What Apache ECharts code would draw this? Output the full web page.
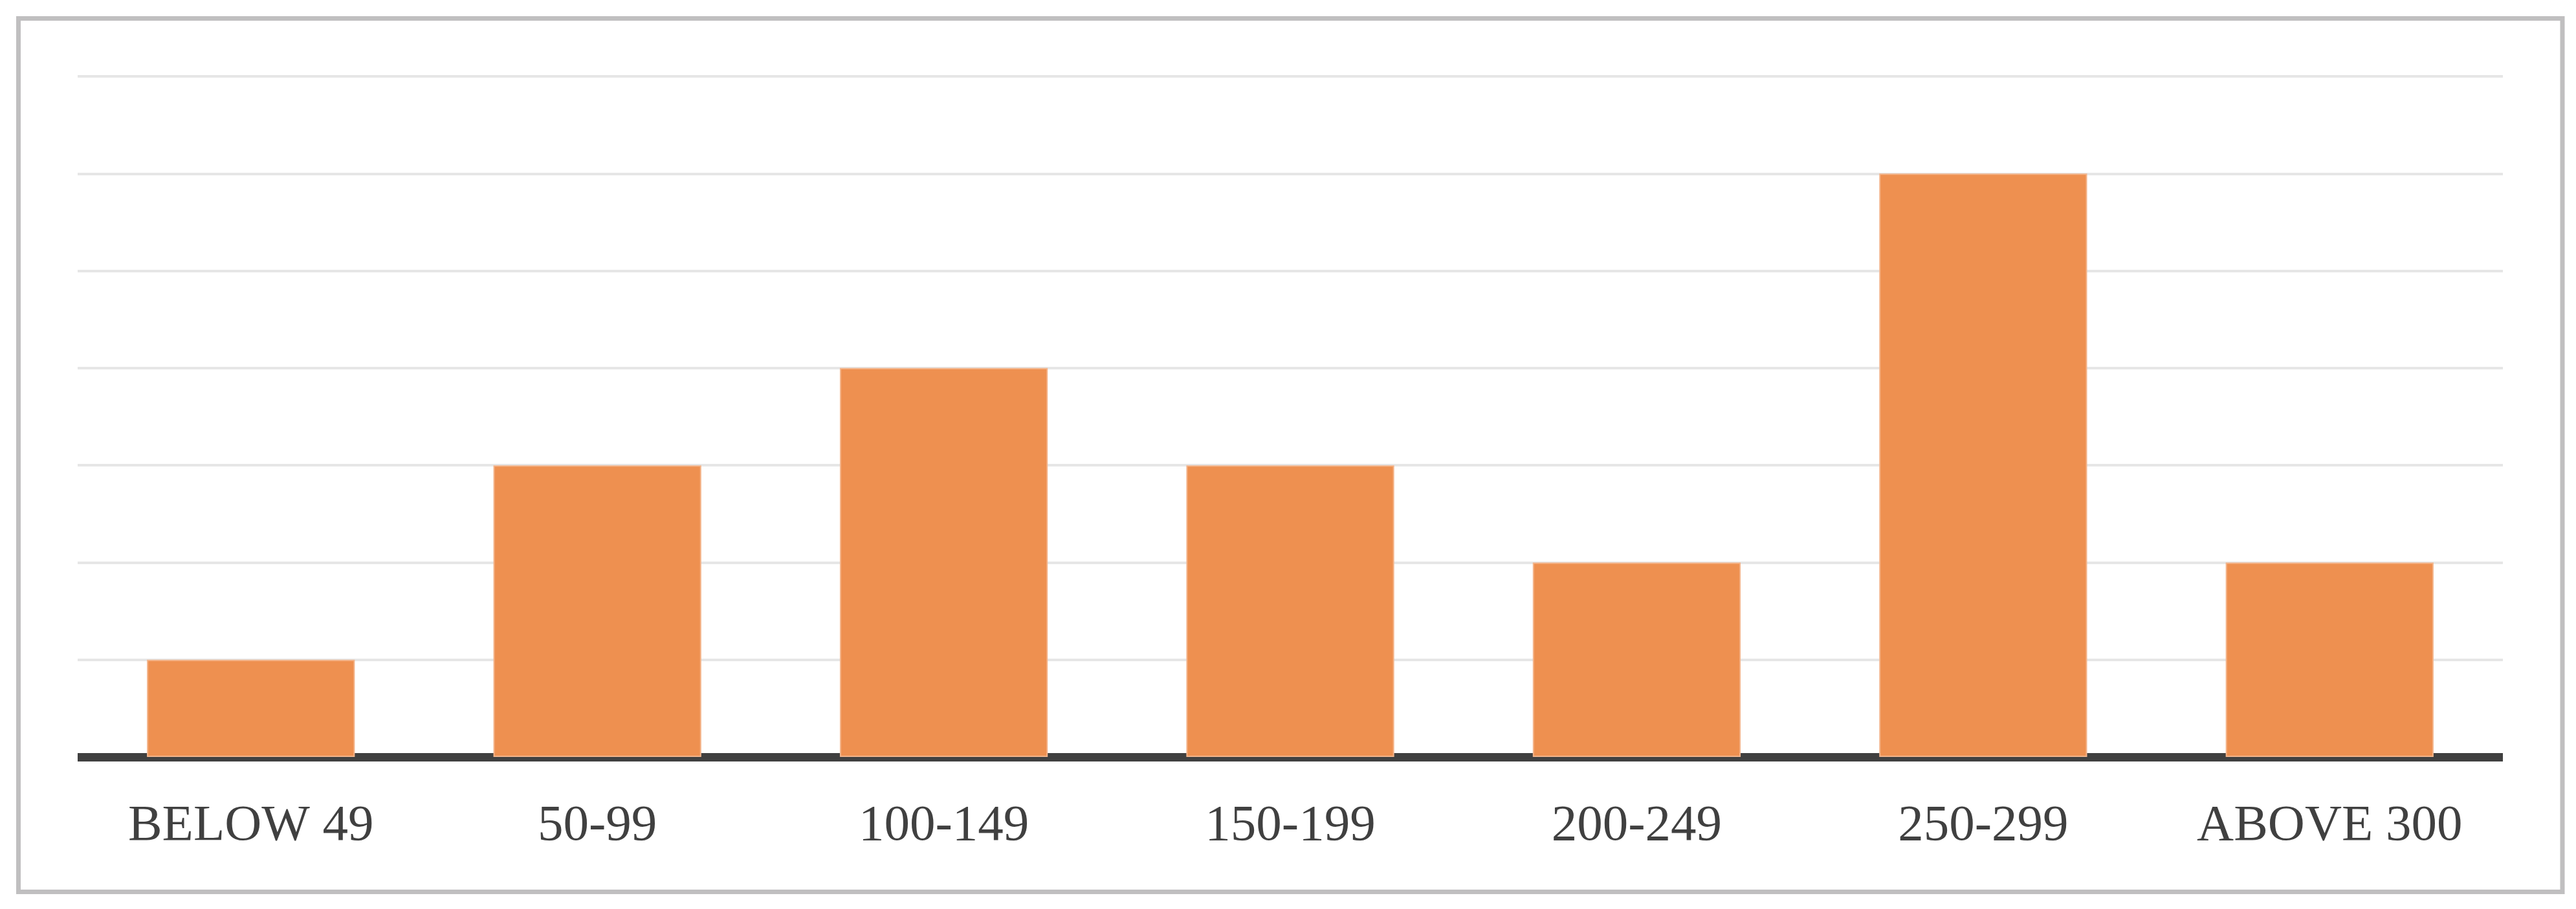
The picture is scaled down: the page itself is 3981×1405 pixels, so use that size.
<!DOCTYPE html>
<html>
<head>
<meta charset="utf-8">
<script src="https://cdn.jsdelivr.net/npm/echarts@6/dist/echarts.min.js"></script>
<style>
html,body{margin:0;padding:0;background:#fff;}
#chart{width:3981px;height:1405px;}
</style>
</head>
<body>
<div id="chart"></div>
<script>
const categories = ['BELOW 49', '50-99', '100-149', '150-199', '200-249', '250-299', 'ABOVE 300'];
const counts = [1, 3, 4, 3, 2, 6, 2];
const yMin = 0;
const yMax = 7;
const yStep = 1;

const chart = echarts.init(document.getElementById('chart'), null, {renderer: 'canvas'});
chart.setOption({
  backgroundColor: '#ffffff',
  animation: false,
  graphic: [{
    type: 'rect',
    shape: {x: 28.5, y: 28.5, width: 3931.5, height: 1350},
    style: {fill: 'none', stroke: '#c0bfc0', lineWidth: 7},
    silent: true,
    z: 100
  }],
  grid: {left: 120, right: 113, top: 118, bottom: 235, containLabel: false},
  xAxis: {
    type: 'category',
    data: categories,
    axisLine: {show: true, lineStyle: {color: '#404040', width: 13, cap: 'butt'}},
    axisTick: {show: false},
    axisLabel: {
      color: '#404040',
      fontFamily: '"Liberation Serif", "DejaVu Serif", serif',
      fontSize: 79,
      margin: 68,
      interval: 0
    },
    splitLine: {show: false}
  },
  yAxis: {
    type: 'value',
    min: yMin,
    max: yMax,
    interval: yStep,
    axisLine: {show: false},
    axisTick: {show: false},
    axisLabel: {show: false},
    splitLine: {show: true, lineStyle: {color: '#e6e6e6', width: 4}}
  },
  series: [{
    type: 'bar',
    data: counts,
    barCategoryGap: '40%',
    itemStyle: {color: '#ee9050', borderColor: '#f4b48a', borderWidth: 2},
    z: 2
  }]
});
</script>
</body>
</html>
